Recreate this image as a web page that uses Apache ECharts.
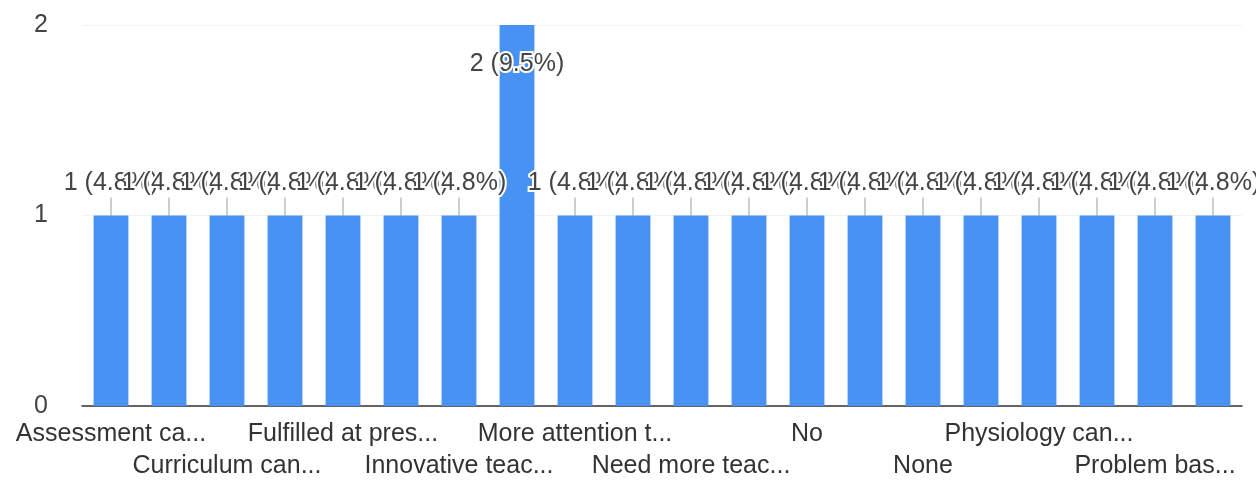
<!DOCTYPE html>
<html><head><meta charset="utf-8">
<script src="https://cdn.jsdelivr.net/npm/echarts@6/dist/echarts.min.js"></script>
<style>html,body{margin:0;padding:0;background:#fff}#c{width:1256px;height:487px}</style>
</head><body><div id="c"></div>
<script>
// Category names (odd-index names are not shown in the reference; placeholders)
const categories = ['Assessment ca...', 'Unlabelled 1', 'Curriculum can...', 'Unlabelled 3',
  'Fulfilled at pres...', 'Unlabelled 5', 'Innovative teac...', 'Unlabelled 7',
  'More attention t...', 'Unlabelled 9', 'Need more teac...', 'Unlabelled 11',
  'No', 'Unlabelled 13', 'None', 'Unlabelled 15', 'Physiology can...', 'Unlabelled 17',
  'Problem bas...', 'Unlabelled 19'];
const counts = [1, 1, 1, 1, 1, 1, 1, 2, 1, 1, 1, 1, 1, 1, 1, 1, 1, 1, 1, 1];
const yTicks = [0, 1, 2];

const total = counts.reduce((a, b) => a + b, 0);
const maxVal = Math.max(...counts);
const FONT = 'Liberation Sans, Arial, sans-serif';

const seriesData = counts.map(v => {
  if (v === maxVal) {
    return { value: v, label: { position: 'insideTop', distance: 27 }, labelLine: { show: false } };
  }
  return { value: v };
});

const chart = echarts.init(document.getElementById('c'), null, { renderer: 'canvas' });
chart.setOption({
  animation: false,
  backgroundColor: '#fff',
  grid: { left: 82, right: 14, top: 25, bottom: 81 },
  xAxis: {
    type: 'category',
    data: categories,
    axisLine: { show: true, lineStyle: { color: '#333', width: 1.5 } },
    axisTick: { show: false },
    axisLabel: {
      interval: 0,
      showMinLabel: true,
      showMaxLabel: true,
      hideOverlap: false,
      margin: 12,
      fontFamily: FONT,
      fontSize: 25,
      lineHeight: 32,
      color: '#333',
      formatter: (val, idx) => (idx % 2 === 1 ? '' : (idx % 4 === 2 ? '\n' + val : val))
    }
  },
  yAxis: {
    type: 'value',
    min: yTicks[0],
    max: yTicks[yTicks.length - 1],
    interval: 1,
    axisLine: { show: false },
    axisTick: { show: false },
    splitLine: { show: true, lineStyle: { color: '#f2f2f2', width: 1 } },
    axisLabel: { margin: 34, fontFamily: FONT, fontSize: 25, color: '#444' }
  },
  series: [{
    type: 'bar',
    data: seriesData,
    barCategoryGap: '40%',
    itemStyle: { color: '#4792f2' },
    label: {
      show: true,
      position: 'top',
      distance: 0,
      fontFamily: FONT,
      fontSize: 25,
      lineHeight: 25,
      color: '#444',
      textBorderColor: '#fff',
      textBorderWidth: 4,
      formatter: p => p.value + ' (' + (p.value / total * 100).toFixed(1) + '%)'
    },
    labelLine: { show: true, lineStyle: { color: '#9e9e9e', width: 1 } },
    labelLayout: p => (counts[p.dataIndex] === maxVal ? {} : { dy: -20 })
  }]
});
</script>
</body></html>
